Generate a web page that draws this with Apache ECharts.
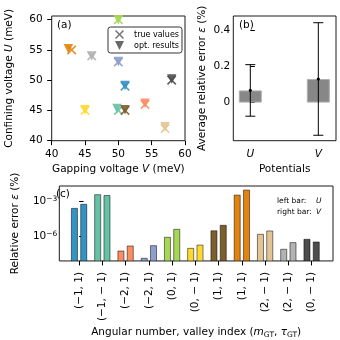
<!DOCTYPE html>
<html>
<head>
<meta charset="utf-8">
<script src="https://cdn.jsdelivr.net/npm/echarts@6/dist/echarts.min.js"></script>
<style>
html, body { margin: 0; padding: 0; background: #fff; }
#chart { width: 340px; height: 340px; }
</style>
</head>
<body>
<div id="chart"></div>
<script>
// one colour per (m_GT, tau_GT) state, same order in all panels
const stateColors = ['#3592c4', '#66c2a5', '#fc8d62', '#8da0cb', '#a6d854', '#ffd92f',
    '#7d5f2b', '#e2830f', '#e5c494', '#b3b3b3', '#4d4d4d']
const stateLabels = ['(−1, 1)', '(−1, − 1)', '(−2, 1)', '(−2, 1)', '(0, 1)', '(0, − 1)',
    '(1, 1)', '(1, 1)', '(2, − 1)', '(2, − 1)', '(0, − 1)']

// panel (a): gapping voltage V and confining voltage U (meV)
const trueV = [51, 50, 54, 50, 50, 45, 51, 43, 57, 46, 58]
const trueU = [49, 45, 46, 53, 60, 45, 45, 55, 42, 54, 50]
const optV = [51, 49.8, 54, 50, 50, 45, 51, 42.5, 57, 46, 58]
const optU = [49.1, 45.3, 46.2, 53.1, 60, 45.1, 45.1, 55.2, 42.3, 54, 50.2]
const aTicks = [40, 45, 50, 55, 60]

// panel (b): average relative error (%) and its spread
const potentials = ['U', 'V']
const avgErr = [0.067, 0.13]
const stdErr = [0.142, 0.31]
const bTicks = [0, 0.2, 0.4]

// panel (c): relative error (%) per state, left bar U, right bar V
const relErrU = [2.7e-4, 4.0e-3, 5.9e-8, 1.4e-8, 8.9e-7, 1.0e-7, 3.2e-6, 3.7e-3, 1.6e-6, 8.3e-8, 6.0e-7]
const relErrV = [6.0e-4, 3.4e-3, 1.6e-7, 1.7e-7, 4.3e-6, 1.9e-7, 9.5e-6, 1.0e-2, 3.1e-6, 3.1e-7, 3.5e-7]
const cTicks = [-6, -3]   // log10 of the labelled decades

const FONT = "'DejaVu Sans', sans-serif"
const FS = 10.5
const INK = '#000'
const X_PATH = 'M0,1.2L1.2,0L5,3.8L8.8,0L10,1.2L6.2,5L10,8.8L8.8,10L5,6.2L1.2,10L0,8.8L3.8,5Z'

const chart = echarts.init(document.getElementById('chart'))

const cMin = -8.08
const cMax = -1.65
const barW = 0.26
const barOff = 0.2

function nameStyle() {
    return {
        fontFamily: FONT, fontSize: FS, color: INK, lineHeight: 14,
        rich: {
            i: { fontFamily: FONT, fontSize: FS, fontStyle: 'italic', color: INK, lineHeight: 14 },
            s: { fontFamily: FONT, fontSize: 7.5, color: INK, verticalAlign: 'bottom', lineHeight: 14 }
        }
    }
}

function tickStyle(values, inside) {
    return { show: true, customValues: values, inside: inside, length: 4.5, lineStyle: { color: INK, width: 1 } }
}

const labelBase = { fontFamily: FONT, fontSize: FS, color: INK }

const stateIdx = stateLabels.map((_, i) => i)

const cData = []
stateIdx.forEach(i => {
    cData.push([i, Math.log10(relErrU[i]), 0])
    cData.push([i, Math.log10(relErrV[i]), 1])
})

const option = {
    animation: false,
    title: [
        { text: '(a)', left: 57, top: 20, padding: 0, textStyle: { fontFamily: FONT, fontSize: FS, fontWeight: 'normal', color: INK } },
        { text: '(b)', left: 239, top: 20, padding: 0, textStyle: { fontFamily: FONT, fontSize: FS, fontWeight: 'normal', color: INK } },
        { text: '(c)', left: 56, top: 189, padding: 0, textStyle: { fontFamily: FONT, fontSize: FS, fontWeight: 'normal', color: INK } },
        {
            text: '{l|left bar:}{i|U}\n{l|right bar:}{i|V}', left: 277, top: 196, padding: 0,
            textStyle: {
                fontFamily: FONT, fontSize: 7.5, fontWeight: 'normal', color: INK, lineHeight: 10.5,
                rich: {
                    l: { fontFamily: FONT, fontSize: 7.5, color: INK, width: 39, lineHeight: 10.5 },
                    i: { fontFamily: FONT, fontSize: 7.5, color: INK, fontStyle: 'italic', lineHeight: 10.5 }
                }
            }
        }
    ],
    legend: {
        left: 108, top: 27, orient: 'vertical',
        padding: [3, 3, 3, 3.5], itemGap: 2, itemWidth: 16, itemHeight: 9,
        backgroundColor: '#fff', borderColor: '#333', borderWidth: 1, borderRadius: 2.5,
        textStyle: { fontFamily: FONT, fontSize: 8, color: INK, padding: [0, 0, 0, 1.5] },
        data: [
            { name: 'true values', icon: 'path://M-3.89,0M13.89,10' + X_PATH, itemStyle: { color: '#555' } },
            { name: 'opt. results', icon: 'path://M-3.89,0M13.89,10M0,0L10,0L5,10Z', itemStyle: { color: '#444' } }
        ]
    },
    grid: [
        { left: 51.7, top: 16, width: 133.3, height: 124.7, show: true, borderColor: '#1a1a1a', borderWidth: 1 },
        { left: 233.3, top: 16, width: 102.7, height: 124.7, show: true, borderColor: '#1a1a1a', borderWidth: 1 },
        { left: 50.7, top: 186, width: 282.3, height: 75, show: true, borderColor: '#1a1a1a', borderWidth: 1 }
    ],
    xAxis: [
        {
            type: 'value', gridIndex: 0, min: 40, max: 60,
            axisLine: { show: false }, splitLine: { show: false },
            axisTick: tickStyle(aTicks, false),
            axisLabel: Object.assign({ customValues: aTicks, margin: 8 }, labelBase),
            name: 'Gapping voltage {i|V} (meV)', nameLocation: 'middle', nameGap: 22,
            nameTextStyle: nameStyle()
        },
        {
            type: 'value', gridIndex: 1, min: -0.25, max: 1.26,
            axisLine: { show: false }, splitLine: { show: false },
            axisTick: tickStyle([0, 1], true),
            axisLabel: Object.assign({ customValues: [0, 1], margin: 8, fontStyle: 'italic',
                formatter: v => potentials[Math.round(v)] }, labelBase),
            name: 'Potentials', nameLocation: 'middle', nameGap: 22,
            nameTextStyle: nameStyle()
        },
        {
            type: 'value', gridIndex: 2, min: -0.85, max: 10.92,
            axisLine: { show: false }, splitLine: { show: false },
            axisTick: tickStyle(stateIdx, false),
            axisLabel: Object.assign({ customValues: stateIdx, margin: 11, rotate: 90,
                formatter: v => stateLabels[Math.round(v)] }, labelBase),
            name: 'Angular number, valley index ({i|m}{s|GT}, {i|τ}{s|GT})', nameLocation: 'middle', nameGap: 61,
            nameTextStyle: nameStyle()
        }
    ],
    yAxis: [
        {
            type: 'value', gridIndex: 0, min: 40, max: 60.6,
            axisLine: { show: false }, splitLine: { show: false },
            axisTick: tickStyle(aTicks, false),
            axisLabel: Object.assign({ customValues: aTicks, margin: 9 }, labelBase),
            name: 'Confining voltage {i|U} (meV)', nameLocation: 'middle', nameGap: 35,
            nameTextStyle: nameStyle()
        },
        {
            type: 'value', gridIndex: 1, min: -0.21, max: 0.477,
            axisLine: { show: false }, splitLine: { show: false },
            axisTick: tickStyle(bTicks, true),
            axisLabel: Object.assign({ customValues: bTicks, margin: 3 }, labelBase),
            name: 'Average relative error {i|ε} (%)', nameLocation: 'middle', nameGap: 24,
            nameTextStyle: nameStyle()
        },
        {
            type: 'value', gridIndex: 2, min: cMin, max: cMax,
            axisLine: { show: false }, splitLine: { show: false },
            axisTick: tickStyle(cTicks, true),
            axisLabel: Object.assign({
                customValues: cTicks, margin: 2,
                formatter: v => '{b|10}{s|−' + Math.abs(v) + '}',
                rich: {
                    b: { fontFamily: FONT, fontSize: FS, color: INK, lineHeight: 14 },
                    s: { fontFamily: FONT, fontSize: 7.5, color: INK, verticalAlign: 'top', lineHeight: 14 }
                }
            }, labelBase),
            name: 'Relative error {i|ε} (%)', nameLocation: 'middle', nameGap: 35,
            nameTextStyle: nameStyle()
        }
    ],
    series: [
        {
            name: 'true values', type: 'scatter', xAxisIndex: 0, yAxisIndex: 0,
            symbol: 'path://' + X_PATH, symbolSize: 9.5, clip: false, z: 2,
            data: stateIdx.map(i => ({ value: [trueV[i], trueU[i]], itemStyle: { color: stateColors[i], opacity: 0.9 } }))
        },
        {
            name: 'opt. results', type: 'scatter', xAxisIndex: 0, yAxisIndex: 0,
            symbol: 'triangle', symbolRotate: 180, symbolSize: 9.5, clip: false, z: 3,
            data: stateIdx.map(i => ({ value: [optV[i], optU[i]], itemStyle: { color: stateColors[i], opacity: 0.9 } }))
        },
        {
            type: 'bar', xAxisIndex: 1, yAxisIndex: 1, barWidth: 23,
            itemStyle: { color: '#878787', borderColor: '#b0b0b0', borderWidth: 1 },
            data: avgErr.map((v, i) => [i, v])
        },
        {
            type: 'custom', xAxisIndex: 1, yAxisIndex: 1, z: 5,
            data: avgErr.map((v, i) => [i, v, stdErr[i]]),
            renderItem: (params, api) => {
                const x = api.value(0), m = api.value(1), s = api.value(2)
                const hi = api.coord([x, m + s])
                const lo = api.coord([x, m - s])
                const mid = api.coord([x, m])
                const ls = { stroke: INK, lineWidth: 1 }
                return {
                    type: 'group', children: [
                        { type: 'line', shape: { x1: hi[0], y1: hi[1], x2: lo[0], y2: lo[1] }, style: ls },
                        { type: 'line', shape: { x1: hi[0] - 5, y1: hi[1], x2: hi[0] + 5, y2: hi[1] }, style: ls },
                        { type: 'line', shape: { x1: lo[0] - 5, y1: lo[1], x2: lo[0] + 5, y2: lo[1] }, style: ls },
                        { type: 'circle', shape: { cx: mid[0], cy: mid[1], r: 1.6 }, style: { fill: INK } }
                    ]
                }
            }
        },
        {
            type: 'custom', xAxisIndex: 2, yAxisIndex: 2, clip: true,
            data: cData,
            renderItem: (params, api) => {
                const i = api.value(0), v = api.value(1), side = api.value(2)
                const c = i + (side === 0 ? -barOff : barOff)
                const p1 = api.coord([c - barW / 2, v])
                const p2 = api.coord([c + barW / 2, cMin])
                return {
                    type: 'rect',
                    shape: { x: p1[0], y: p1[1], width: p2[0] - p1[0], height: p2[1] - p1[1] },
                    style: { fill: stateColors[i], stroke: 'rgba(0,0,0,0.5)', lineWidth: 1 }
                }
            }
        }
    ]
}

chart.setOption(option)
window.addEventListener('resize', () => chart.resize())
</script>
</body>
</html>
